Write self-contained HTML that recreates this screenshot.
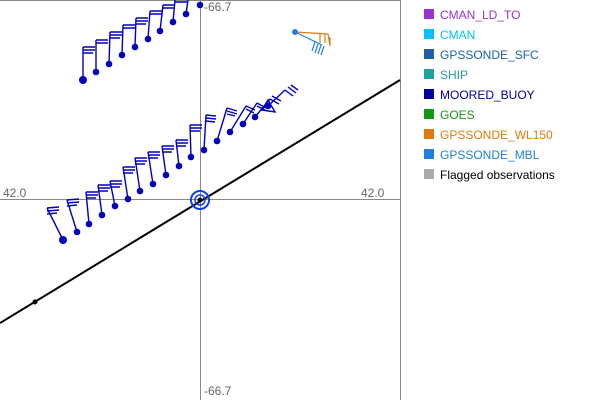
<!DOCTYPE html>
<html><head><style>
body{margin:0;background:#fff;width:600px;height:400px;overflow:hidden;font-family:"Liberation Sans",sans-serif}
</style></head><body>
<svg width="600" height="400" viewBox="0 0 600 400" xmlns="http://www.w3.org/2000/svg" font-family="Liberation Sans, sans-serif">
<rect x="0" y="0" width="600" height="400" fill="#fff"/>
<line x1="400.5" y1="0" x2="400.5" y2="400" stroke="#888"/>
<line x1="0" y1="199.5" x2="400" y2="199.5" stroke="#888"/>
<line x1="200.5" y1="0" x2="200.5" y2="400" stroke="#888"/>
<line x1="0" y1="0.5" x2="400" y2="0.5" stroke="#888"/>
<text x="3" y="197" font-size="12" fill="#666">42.0</text>
<text x="361" y="197" font-size="12" fill="#666">42.0</text>
<text x="204" y="11" font-size="12" fill="#666">-66.7</text>
<text x="204" y="395" font-size="12" fill="#666">-66.7</text>
<line x1="0" y1="323" x2="400" y2="80" stroke="#000" stroke-width="2"/>
<circle cx="35" cy="302" r="2.5" fill="#000"/>
<g stroke="#0000bb" stroke-width="1.4" fill="none">
<path d="M63 240L47 208M47 208l12 -1M47 211l12 -1M47 214l10 -1"/>
<path d="M77 232L67 200M67 200l12 -1M67 203l12 -1M67 206l10 -1"/>
<path d="M89 224L86 192M86 192l12 0M86 195l12 0M86 198l10 0"/>
<path d="M102 215L98 185M98 185l12 0M98 188l12 0M98 191l10 0"/>
<path d="M115 206L110 181M110 181l12 0M110 184l12 0M110 187l10 0"/>
<path d="M128 199L123 167M123 167l12 0M123 170l12 0M123 173l10 0"/>
<path d="M140 191L135 158M135 158l12 0M135 161l12 0M135 164l10 0"/>
<path d="M153 184L148 152M148 152l12 0M148 155l12 0M148 158l10 0"/>
<path d="M166 175L162 146M162 146l12 0M162 149l12 0M162 152l10 0"/>
<path d="M179 166L176 140M176 140l12 0M176 143l12 0M176 146l10 0"/>
<path d="M191 157L190 125M190 125l12 0M190 128l12 0M190 131l10 0"/>
<path d="M204 150L206 115M206 115l10 1M206 118l10 1M206 121l9 1"/>
<path d="M217 141L227 108M227 108l10 3M227 111l10 3M227 114l8 2"/>
<path d="M230 132L246 106M246 106l9 4M246 109l8 4"/>
<path d="M243 124L257 103M257 103l9 5M257 106l8 4"/>
<path d="M255 117L270 99M270 99l9 5M272 96l9 5"/>
<path d="M268 106L285 90M285 90l8 6M288 87l8 6M291 85l7 5"/>
<path d="M262 110L275 112L268 100Z"/>
<path d="M83 80L83 47M83 47l12 0M83 50l12 0M83 53l10 0"/>
<path d="M96 72L96 40M96 40l12 0M96 43l12 0"/>
<path d="M109 64L110 32M110 32l12 0M110 35l12 0M110 38l10 0"/>
<path d="M122 55L123 25M123 25l12 0M123 28l12 0"/>
<path d="M135 47L136 18M136 18l12 0M136 21l12 0M136 24l10 0"/>
<path d="M148 39L150 11M150 11l12 0M150 14l12 0"/>
<path d="M160 31L163 5M163 5l12 0M163 8l12 0"/>
<path d="M173 22L175 0M175 2l12 0"/>
<path d="M186 14L188 0"/>
</g>
<g fill="#0000bb">
<circle cx="63" cy="240" r="4"/><circle cx="77" cy="232" r="3.3"/><circle cx="89" cy="224" r="3.3"/><circle cx="102" cy="215" r="3.3"/><circle cx="115" cy="206" r="3.3"/><circle cx="128" cy="199" r="3.3"/><circle cx="140" cy="191" r="3.3"/><circle cx="153" cy="184" r="3.3"/><circle cx="166" cy="175" r="3.3"/><circle cx="179" cy="166" r="3.3"/><circle cx="191" cy="157" r="3.3"/><circle cx="204" cy="150" r="3.3"/><circle cx="217" cy="141" r="3.3"/><circle cx="230" cy="132" r="3.3"/><circle cx="243" cy="124" r="3.3"/><circle cx="255" cy="117" r="3.3"/><circle cx="268" cy="106" r="3.3"/>
<circle cx="83" cy="80" r="4"/><circle cx="96" cy="72" r="3.3"/><circle cx="109" cy="64" r="3.3"/><circle cx="122" cy="55" r="3.3"/><circle cx="135" cy="47" r="3.3"/><circle cx="148" cy="39" r="3.3"/><circle cx="160" cy="31" r="3.3"/><circle cx="173" cy="22" r="3.3"/><circle cx="186" cy="14" r="3.3"/><circle cx="200" cy="5" r="3.3"/>
</g>
<circle cx="200" cy="200" r="9" fill="none" stroke="#1040e0" stroke-width="2"/>
<circle cx="200" cy="200" r="5" fill="none" stroke="#1040e0" stroke-width="1.5"/>
<circle cx="200" cy="200" r="2.5" fill="#000"/>
<g stroke="#2080e0" stroke-width="1.2" fill="none">
<path d="M295 32L322 45M315 42l-3 9M318 44l-3 9M321 45l-3 9M324 46l-3 9"/>
</g>
<g stroke="#e07a10" stroke-width="1.2" fill="none">
<path d="M295 32L328 34M320 34v9M325 34v9M328 34l2 12M330 37v8"/>
</g>
<circle cx="295" cy="32" r="3" fill="#2080e0"/>
<g font-size="12">
<rect x="424" y="9" width="10" height="10" fill="#9933cc"/><text x="440" y="19" fill="#9933cc">CMAN_LD_TO</text>
<rect x="424" y="29" width="10" height="10" fill="#00bfff"/><text x="440" y="39" fill="#00bfff">CMAN</text>
<rect x="424" y="49" width="10" height="10" fill="#1e5fa8"/><text x="440" y="59" fill="#1e5fa8">GPSSONDE_SFC</text>
<rect x="424" y="69" width="10" height="10" fill="#20a0a0"/><text x="440" y="79" fill="#20a0a0">SHIP</text>
<rect x="424" y="89" width="10" height="10" fill="#0000a0"/><text x="440" y="99" fill="#0000a0">MOORED_BUOY</text>
<rect x="424" y="109" width="10" height="10" fill="#119911"/><text x="440" y="119" fill="#119911">GOES</text>
<rect x="424" y="129" width="10" height="10" fill="#e07a10"/><text x="440" y="139" fill="#e07a10">GPSSONDE_WL150</text>
<rect x="424" y="149" width="10" height="10" fill="#2080e0"/><text x="440" y="159" fill="#2080e0">GPSSONDE_MBL</text>
<rect x="424" y="169" width="10" height="10" fill="#aaaaaa"/><text x="440" y="179" fill="#000">Flagged observations</text>
</g>
</svg>
</body></html>
